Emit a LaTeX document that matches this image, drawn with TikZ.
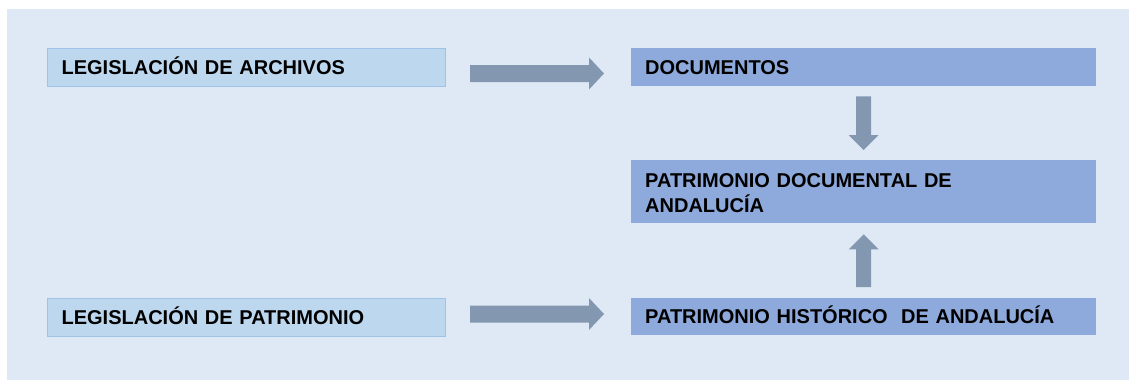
\documentclass[tikz,border=0pt]{standalone}
\usepackage{fontspec}
\setmainfont{Liberation Sans}
\usetikzlibrary{calc}
\definecolor{pagebg}{RGB}{222,233,245}
\definecolor{lawfill}{RGB}{189,215,238}
\definecolor{lawline}{RGB}{157,195,230}
\definecolor{heritfill}{RGB}{142,169,219}
\definecolor{arrowfill}{RGB}{132,151,176}
\tikzset{
  boxbase/.style={rectangle, anchor=north west, inner xsep=14pt, inner ysep=0pt,
    align=left, font=\bfseries\fontsize{20}{25}\selectfont, text=black},
  lawbox/.style={boxbase, fill=lawfill, draw=lawline, line width=1.2pt,
    minimum width=398pt, minimum height=38pt, text width=370pt,
    text height=14.5pt, text depth=0pt},
  heritbox/.style={boxbase, fill=heritfill, draw=none,
    minimum width=465pt, text width=437pt},
  fatarrow/.style={fill=arrowfill, draw=none}
}
\begin{document}
\begin{tikzpicture}[x=1pt, y=-1pt]
  \useasboundingbox (0,0) rectangle (1129,380);
  % page panel
  \fill[pagebg] (7,9) rectangle (1129,380);

  % legislation boxes on the left
  \node[lawbox] (archivos) at (47,48) {LEGISLACIÓN DE ARCHIVOS};
  \node[lawbox] (patrimonio) at (47,297.5) {LEGISLACIÓN DE PATRIMONIO};

  % heritage boxes on the right
  \node[heritbox, minimum height=38pt, text height=14pt, text depth=0pt]
    (docs) at (631,48) {DOCUMENTOS};
  \node[heritbox, minimum height=63pt, text height=16pt, text depth=25pt]
    (pdoc) at (631,160) {PATRIMONIO DOCUMENTAL DE\\ANDALUCÍA};
  \node[heritbox, minimum height=37.5pt, text height=15pt, text depth=0pt]
    (phist) at (631,297.5) {PATRIMONIO HISTÓRICO~\ DE ANDALUCÍA};

  % block arrows: left boxes to right boxes
  \foreach \src/\dst/\yc in {archivos/docs/73.5, patrimonio/phist/314}{
    \path let \p1=(\src.east), \p2=(\dst.west) in
      coordinate (s) at (\x1+24, \yc) coordinate (t) at (\x2-27, \yc);
    \fill[fatarrow] ($(s)+(0,-8.5)$) -- ($(t)+(-15,-8.5)$) -- ($(t)+(-15,-16)$)
      -- (t) -- ($(t)+(-15,16)$) -- ($(t)+(-15,8.5)$) -- ($(s)+(0,8.5)$) -- cycle;
  }

  % block arrow: DOCUMENTOS down to Patrimonio Documental
  \coordinate (dtip) at ($(pdoc.north)+(0,-10)$);
  \coordinate (dtop) at ($(docs.south)+(0,10)$);
  \fill[fatarrow] ($(dtop)+(-7.5,0)$) -- ($(dtip)+(-7.5,-15)$) -- ($(dtip)+(-15,-15)$)
    -- (dtip) -- ($(dtip)+(15,-15)$) -- ($(dtip)+(7.5,-15)$) -- ($(dtop)+(7.5,0)$) -- cycle;

  % block arrow: Patrimonio Histórico up to Patrimonio Documental
  \coordinate (utip) at ($(pdoc.south)+(0,11)$);
  \coordinate (ubot) at ($(phist.north)+(0,-10.5)$);
  \fill[fatarrow] ($(ubot)+(-7.5,0)$) -- ($(utip)+(-7.5,15)$) -- ($(utip)+(-15,15)$)
    -- (utip) -- ($(utip)+(15,15)$) -- ($(utip)+(7.5,15)$) -- ($(ubot)+(7.5,0)$) -- cycle;
\end{tikzpicture}
\end{document}
